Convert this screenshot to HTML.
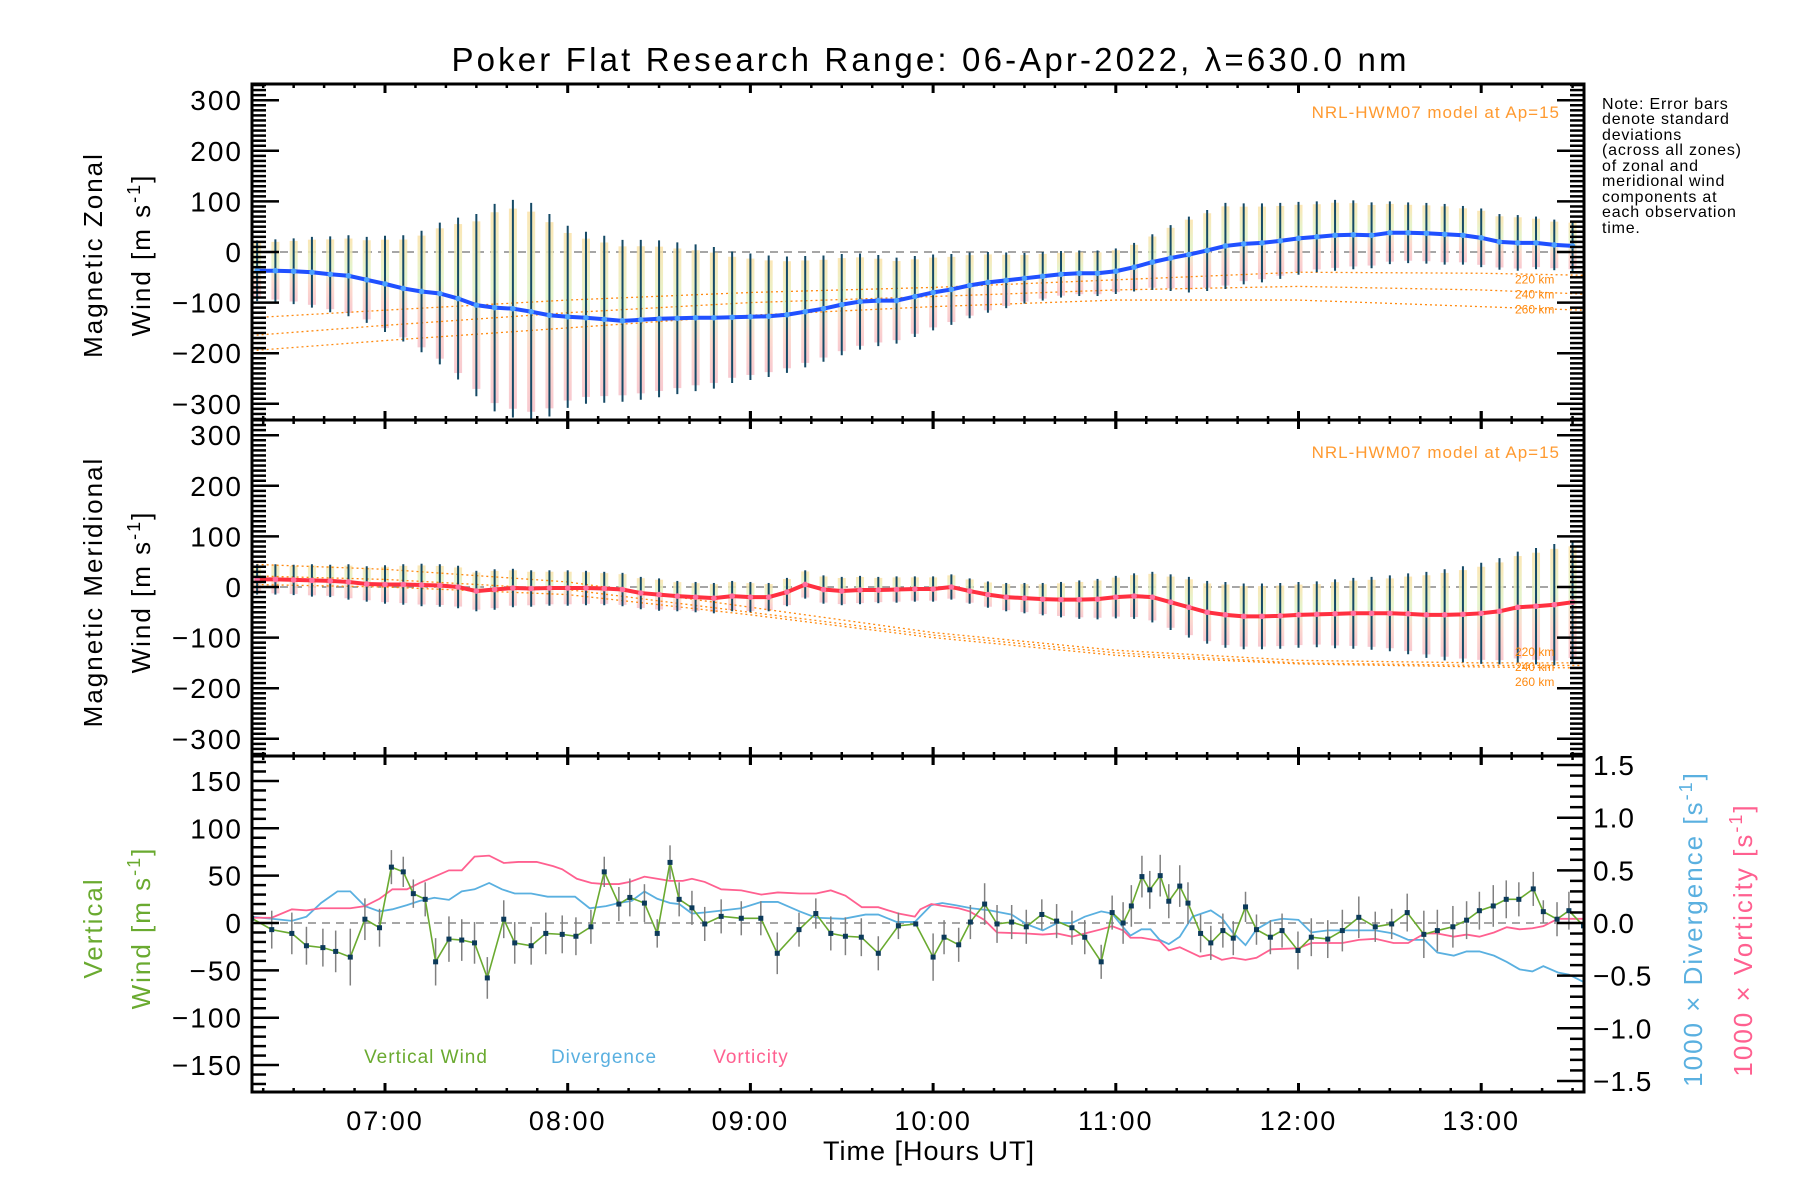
<!DOCTYPE html>
<html><head><meta charset="utf-8">
<style>
html,body{margin:0;padding:0;background:#fff;}
svg{display:block;font-family:"Liberation Sans",sans-serif;}
</style></head>
<body>
<svg id="chart" width="1800" height="1200" viewBox="0 0 1800 1200" xmlns="http://www.w3.org/2000/svg">
<defs>
<linearGradient id="pastel" x1="0" y1="0" x2="0" y2="1">
<stop offset="0" stop-color="#fbe2a8"/><stop offset="0.4" stop-color="#e0f2c4"/><stop offset="0.7" stop-color="#fcd2c4"/><stop offset="1" stop-color="#f7c0c8"/>
</linearGradient>
<clipPath id="c1"><rect x="252" y="84" width="1332" height="336"/></clipPath>
<clipPath id="c2"><rect x="252" y="420" width="1332" height="336"/></clipPath>
<clipPath id="c3"><rect x="252" y="756" width="1332" height="336"/></clipPath>
</defs>
<text x="929" y="71" font-size="33" text-anchor="middle" textLength="955" lengthAdjust="spacing">Poker Flat Research Range: 06-Apr-2022, λ=630.0 nm</text>
<g id="marks"></g>
<g id="axes"></g>
<g font-size="16" fill="#000" letter-spacing="0.8">
<text x="1602" y="109">Note: Error bars</text>
<text x="1602" y="124">denote standard</text>
<text x="1602" y="140">deviations</text>
<text x="1602" y="155">(across all zones)</text>
<text x="1602" y="171">of zonal and</text>
<text x="1602" y="186">meridional wind</text>
<text x="1602" y="202">components at</text>
<text x="1602" y="217">each observation</text>
<text x="1602" y="233">time.</text>
</g>
<g font-size="26" fill="#000" letter-spacing="2">
<text transform="translate(102,255) rotate(-90)" text-anchor="middle">Magnetic Zonal</text>
<text transform="translate(150,255) rotate(-90)" text-anchor="middle">Wind [m s<tspan dy="-10" font-size="18">-1</tspan><tspan dy="10">]</tspan></text>
<text transform="translate(102,592) rotate(-90)" text-anchor="middle">Magnetic Meridional</text>
<text transform="translate(150,592) rotate(-90)" text-anchor="middle">Wind [m s<tspan dy="-10" font-size="18">-1</tspan><tspan dy="10">]</tspan></text>
<text transform="translate(102,928) rotate(-90)" text-anchor="middle" fill="#6aaa30">Vertical</text>
<text transform="translate(150,928) rotate(-90)" text-anchor="middle" fill="#6aaa30">Wind [m s<tspan dy="-10" font-size="18">-1</tspan><tspan dy="10">]</tspan></text>
<text transform="translate(1702,929) rotate(-90)" text-anchor="middle" fill="#5ab0e0">1000 × Divergence [s<tspan dy="-10" font-size="18">-1</tspan><tspan dy="10">]</tspan></text>
<text transform="translate(1752,940) rotate(-90)" text-anchor="middle" fill="#ff6090">1000 × Vorticity [s<tspan dy="-10" font-size="18">-1</tspan><tspan dy="10">]</tspan></text>
<text x="929" y="1160" text-anchor="middle" font-size="27" letter-spacing="1">Time [Hours UT]</text>
</g>
<g font-size="19" letter-spacing="1">
<text x="426" y="1073" text-anchor="middle" fill="#6aaa30" dy="-10">Vertical Wind</text>
<text x="604" y="1073" text-anchor="middle" fill="#5ab0e0" dy="-10">Divergence</text>
<text x="751" y="1073" text-anchor="middle" fill="#ff6090" dy="-10">Vorticity</text>
<text x="1560" y="118" text-anchor="end" fill="#ff9a30" font-size="17">NRL-HWM07 model at Ap=15</text>
<text x="1560" y="458" text-anchor="end" fill="#ff9a30" font-size="17">NRL-HWM07 model at Ap=15</text>
</g>
</svg>
<script>
// ---- data ----
const zonalMean=[-37,-37,-38,-40,-44,-47,-55,-63,-72,-78,-82,-92,-105,-110,-112,-118,-125,-128,-130,-133,-136,-134,-132,-131,-130,-130,-129,-128,-127,-124,-118,-112,-104,-98,-96,-96,-88,-80,-74,-66,-60,-56,-52,-48,-44,-42,-42,-38,-30,-20,-12,-5,3,12,16,18,22,27,30,33,34,33,38,38,37,35,33,28,20,18,18,14,12];
const zonalStd=[60,62,65,70,75,80,85,95,105,120,140,160,180,205,215,215,200,180,170,165,160,158,155,150,145,140,130,125,120,115,110,105,100,95,90,85,80,75,70,65,60,55,50,48,46,45,45,45,48,55,65,75,80,85,80,78,75,72,70,70,68,65,62,60,60,60,58,58,55,55,52,50,50];
const meridMean=[15,15,14,13,12,10,6,5,5,4,3,0,-8,-5,-2,-3,-2,-2,-2,-3,-5,-12,-15,-18,-20,-22,-18,-20,-20,-10,5,-5,-8,-6,-6,-5,-4,-4,0,-8,-15,-20,-22,-24,-25,-25,-24,-20,-18,-20,-30,-40,-50,-55,-58,-58,-57,-55,-54,-53,-52,-52,-52,-53,-55,-55,-54,-52,-48,-40,-38,-35,-30];
const meridStd=[30,30,30,32,32,35,35,38,40,42,42,42,40,40,38,36,35,35,34,33,33,32,32,30,30,30,30,30,28,28,28,28,28,28,26,26,25,25,25,25,26,28,30,32,35,38,40,42,45,50,55,60,62,65,65,65,65,65,65,68,70,72,75,80,85,90,95,100,105,110,115,120,120];
const obsStart=6.3, obsStep=0.1;
const modelT=[6.27,7,8,9,10,11,12,13,13.56];
const zonal220=[-130,-115,-95,-80,-70,-55,-40,-42,-46];
const zonal240=[-165,-145,-120,-100,-88,-75,-68,-75,-83];
const zonal260=[-195,-175,-150,-125,-108,-95,-95,-108,-115];
const merid220=[45,35,10,-40,-90,-125,-145,-150,-150];
const merid240=[22,15,-5,-50,-95,-130,-150,-155,-155];
const merid260=[5,0,-15,-55,-100,-135,-152,-158,-160];
const vT=[6.27,6.38,6.49,6.57,6.66,6.73,6.81,6.89,6.97,7.035,7.10,7.155,7.22,7.277,7.35,7.42,7.49,7.56,7.65,7.71,7.80,7.88,7.97,8.045,8.127,8.20,8.28,8.34,8.42,8.49,8.56,8.61,8.68,8.75,8.84,8.95,9.057,9.147,9.266,9.358,9.44,9.52,9.607,9.70,9.81,9.905,10.0,10.06,10.14,10.204,10.282,10.35,10.43,10.51,10.595,10.676,10.76,10.83,10.92,10.98,11.04,11.085,11.143,11.186,11.243,11.29,11.35,11.395,11.464,11.52,11.586,11.643,11.71,11.77,11.846,11.91,11.997,12.07,12.16,12.24,12.33,12.42,12.51,12.595,12.686,12.76,12.845,12.92,12.99,13.066,13.137,13.206,13.285,13.34,13.415,13.48,13.56];
const vW=[5,-7,-11,-24,-26,-30,-36,4,-5,59,54,31,25,-41,-17,-18,-21,-58,4,-21,-24,-11,-12,-14,-4,54,20,27,21,-11,64,25,16,-1,7,5,5,-32,-7,10,-11,-14,-15,-32,-3,-1,-36,-15,-23,1,20,-1,1,-4,9,2,-5,-15,-41,11,0,18,49,35,50,23,39,21,-11,-21,-8,-16,17,-7,-15,-8,-29,-15,-17,-8,6,-4,-1,11,-12,-8,-4,3,13,18,25,25,36,12,4,13,-3];
const vErr=[0,20,22,20,20,22,30,22,20,18,16,15,18,25,24,22,22,22,20,22,20,22,20,20,18,16,18,20,20,15,18,18,18,18,18,18,18,22,18,16,18,20,20,18,14,0,25,18,18,18,22,20,18,18,16,18,18,18,18,18,22,22,22,20,22,18,22,22,20,18,18,18,16,16,18,18,20,20,20,22,22,16,16,20,25,22,22,20,20,22,20,18,18,12,18,20,0];
const dT=[6.26,6.38,6.49,6.57,6.65,6.74,6.81,6.89,6.97,7.04,7.12,7.19,7.27,7.35,7.42,7.49,7.57,7.64,7.71,7.80,7.89,8.04,8.12,8.21,8.28,8.35,8.42,8.49,8.56,8.61,8.68,8.75,8.85,8.95,9.06,9.15,9.27,9.36,9.51,9.63,9.70,9.80,9.90,9.99,10.05,10.12,10.21,10.31,10.43,10.51,10.60,10.68,10.76,10.83,10.92,10.98,11.04,11.08,11.14,11.19,11.24,11.29,11.35,11.42,11.52,11.58,11.64,11.71,11.77,11.85,11.91,12.00,12.07,12.16,12.42,12.52,12.60,12.69,12.76,12.85,12.92,12.99,13.07,13.14,13.21,13.28,13.34,13.42,13.48,13.56];
const dV=[0.06,0.04,0.02,0.06,0.19,0.30,0.30,0.16,0.11,0.13,0.17,0.21,0.24,0.22,0.30,0.32,0.38,0.32,0.28,0.28,0.25,0.25,0.14,0.16,0.19,0.21,0.30,0.23,0.19,0.18,0.09,0.10,0.12,0.14,0.20,0.20,0.11,0.05,0.04,0.08,0.08,0.01,0.01,0.17,0.19,0.17,0.14,0.12,0.08,-0.01,-0.07,0.00,0.00,0.06,0.11,0.09,-0.04,-0.12,-0.06,-0.06,-0.16,-0.20,-0.13,0.06,0.12,0.05,-0.09,-0.21,-0.06,0.02,0.04,0.03,-0.09,-0.07,-0.07,-0.10,-0.16,-0.16,-0.28,-0.31,-0.27,-0.27,-0.31,-0.37,-0.44,-0.46,-0.41,-0.47,-0.49,-0.56];
const oT=[6.26,6.38,6.49,6.57,6.65,6.81,6.89,6.97,7.04,7.12,7.19,7.27,7.35,7.42,7.49,7.57,7.65,7.73,7.83,7.92,7.97,8.05,8.13,8.20,8.28,8.34,8.42,8.49,8.56,8.63,8.68,8.75,8.84,8.95,9.06,9.15,9.27,9.36,9.44,9.52,9.61,9.70,9.81,9.90,9.93,9.99,10.06,10.14,10.20,10.28,10.35,10.51,10.60,10.68,10.76,10.83,10.92,10.98,11.04,11.08,11.14,11.24,11.29,11.35,11.46,11.52,11.58,11.64,11.71,11.77,11.85,12.00,12.07,12.24,12.33,12.42,12.52,12.60,12.69,12.76,12.85,12.92,12.99,13.07,13.14,13.21,13.28,13.34,13.42,13.56];
const oV=[0.05,0.05,0.13,0.12,0.14,0.14,0.16,0.23,0.32,0.32,0.38,0.44,0.50,0.50,0.63,0.64,0.57,0.58,0.58,0.54,0.51,0.42,0.38,0.37,0.37,0.39,0.44,0.42,0.40,0.40,0.42,0.39,0.32,0.31,0.27,0.29,0.28,0.28,0.31,0.26,0.15,0.15,0.09,0.06,0.13,0.18,0.16,0.14,0.11,0.03,-0.09,-0.10,-0.11,-0.10,-0.13,-0.10,-0.06,-0.03,-0.07,-0.14,-0.14,-0.17,-0.26,-0.23,-0.32,-0.30,-0.35,-0.33,-0.35,-0.33,-0.25,-0.24,-0.19,-0.19,-0.16,-0.15,-0.19,-0.19,-0.10,-0.10,-0.13,-0.11,-0.13,-0.09,-0.04,-0.06,-0.05,-0.03,0.04,0.04];
const hourLabels=["07:00","08:00","09:00","10:00","11:00","12:00","13:00"];
const hourTicks=[7,8,9,10,11,12,13];
const windTicks=[300,200,100,0,-100,-200,-300];
const vertTicks=[150,100,50,0,-50,-100,-150];
const rightTicks=[1.5,1.0,0.5,0.0,-0.5,-1.0,-1.5];

// ---- scales ----
const L=252,R=1584;
const X=t=>L+(t-6.272)*182.7;
const Y1=v=>252-v*0.506;
const Y2=v=>587-v*0.506;
const Y3=v=>923-v*0.947;
const YR=r=>923-r*105.3;
const NS="http://www.w3.org/2000/svg";
const marks=document.getElementById('marks');
const axes=document.getElementById('axes');
function mk(tag,attrs,parent){const e=document.createElementNS(NS,tag);for(const k in attrs)e.setAttribute(k,attrs[k]);(parent||marks).appendChild(e);return e;}
function fmtMinus(s){return String(s).replace('-','\u2212');}

[Y1,Y2,Y3].forEach(Y=>{
 const z=mk('line',{x1:L,x2:R,y1:Y(0),y2:Y(0),stroke:'#888','stroke-width':1.5,'stroke-dasharray':'8,6'});
 
 
});

function windPanel(mean,std,Y,clip,lineColor,dotColor,models,pname,labOff){
 const g=mk('g',{'clip-path':'url(#'+clip+')'});
 
 
 const n=Math.min(mean.length,std.length);
 for(let i=0;i<n;i++){
  const x=X(obsStart+i*obsStep);
  const r=mk('rect',{x:x-4,y:Y(mean[i]+std[i]*0.92),width:8,height:Y(mean[i]-std[i]*0.92)-Y(mean[i]+std[i]*0.92),fill:'url(#pastel)',opacity:0.85},g);
  
  
 }
 models.forEach((m,k)=>{
  const p=mk('polyline',{points:modelT.map((t,i)=>X(t)+','+Y(m[i])).join(' '),fill:'none',stroke:'#ff8a10','stroke-width':1.3,'stroke-dasharray':'2,3'},g);
  
  
 });
 for(let i=0;i<n;i++){
  const x=X(obsStart+i*obsStep);
  const b=mk('line',{x1:x,x2:x,y1:Y(mean[i]+std[i]),y2:Y(mean[i]-std[i]),stroke:'#154a66','stroke-width':2},g);
  
  
 }
 const pl=mk('polyline',{points:mean.map((v,i)=>X(obsStart+i*obsStep)+','+Y(v)).join(' '),fill:'none',stroke:lineColor,'stroke-width':4},g);
 
 
 for(let i=0;i<n;i++){
  const c=mk('circle',{cx:X(obsStart+i*obsStep),cy:Y(mean[i]),r:2.8,fill:dotColor},g);
  
  
 }
 ['220 km','240 km','260 km'].forEach((lab,k)=>{
  const t=mk('text',{x:1515,y:Y(models[0][models[0].length-1])+labOff+k*15,'font-size':12,fill:'#ff8a10'});
  t.textContent=lab;
  
  
 });
}
windPanel(zonalMean,zonalStd,Y1,'c1','#2050ff','#4aa0ff',[zonal220,zonal240,zonal260],'zonal',8);
windPanel(meridMean,meridStd,Y2,'c2','#ff3040','#ff70a0',[merid220,merid240,merid260],'meridional',-7);

const g3=mk('g',{'clip-path':'url(#c3)'});


const dl=mk('polyline',{points:dT.map((t,i)=>X(t)+','+YR(dV[i])).join(' '),fill:'none',stroke:'#5ab0e0','stroke-width':1.8},g3);


const ol=mk('polyline',{points:oT.map((t,i)=>X(t)+','+YR(oV[i])).join(' '),fill:'none',stroke:'#ff6090','stroke-width':1.8},g3);


const nv=Math.min(vT.length,vW.length);
for(let i=0;i<nv;i++){
 const e=(vErr[i]!==undefined?vErr[i]:18);
 if(e>0){
  const b=mk('line',{x1:X(vT[i]),x2:X(vT[i]),y1:Y3(vW[i]+e),y2:Y3(vW[i]-e),stroke:'#808080','stroke-width':1.5},g3);
  
  
 }
}
const vl=mk('polyline',{points:vT.slice(0,nv).map((t,i)=>X(t)+','+Y3(vW[i])).join(' '),fill:'none',stroke:'#6aaa30','stroke-width':1.6},g3);


for(let i=0;i<nv;i++){
 const p=mk('rect',{x:X(vT[i])-2.5,y:Y3(vW[i])-2.5,width:5,height:5,fill:'#0c3a5a'},g3);
 
 
}

// ---- axes ----
function ax(tag,attrs){return mk(tag,attrs,axes);}
const frames=[[84,420,'zonal'],[420,756,'meridional'],[756,1092,'vertical']];
frames.forEach(([t,b,n])=>{
 const r=ax('rect',{x:L,y:t,width:R-L,height:b-t,fill:'none',stroke:'#000','stroke-width':3});
 
 
});
for(let m=0;;m++){
 const t=6+(m*10)/60; if(t>13.6)break; if(t<6.272)continue;
 const x=X(t); const major=Math.abs(t-Math.round(t))<1e-6;
 const len=major?9:4;
 frames.forEach(([top,bot])=>{
  const a=ax('line',{x1:x,x2:x,y1:top,y2:top+len,stroke:'#000','stroke-width':major?3:2.5});
  
  
  const c=ax('line',{x1:x,x2:x,y1:bot-len,y2:bot,stroke:'#000','stroke-width':major?3:2.5});
  
  
 });
 if(major){
  [420,756].forEach(yy=>{const d=ax('line',{x1:x,x2:x,y1:yy-9,y2:yy+9,stroke:'#000','stroke-width':3});
   
   });
 }
}
hourTicks.forEach((h,i)=>{
 const t=ax('text',{x:X(h),y:1130,'text-anchor':'middle','font-size':27,'letter-spacing':2});
 t.textContent=hourLabels[i];
 
 
});
function yAxis(Y,lo,hi,minor,major,labels,top,bot,bothSides,name){
 for(let v=lo;v<=hi+1e-9;v+=minor){
  const y=Y(v); if(y<top+1||y>bot-1)continue;
  const isMaj=Math.abs(v/major-Math.round(v/major))<1e-6;
  const len=isMaj?27:14;
  const a=ax('line',{x1:L,x2:L+len,y1:y,y2:y,stroke:'#000','stroke-width':2.5});
  
  
  if(bothSides){const b=ax('line',{x1:R-len,x2:R,y1:y,y2:y,stroke:'#000','stroke-width':2.5});
   
   }
 }
 labels.forEach(v=>{
  const t=ax('text',{x:243,y:Y(v)+10,'text-anchor':'end','font-size':28,'letter-spacing':2});
  t.textContent=fmtMinus(v);
  
  
 });
}
yAxis(Y1,-330,330,10,100,windTicks,84,420,true,'zonal');
yAxis(Y2,-330,330,10,100,windTicks,420,756,true,'meridional');
yAxis(Y3,-170,170,10,50,vertTicks,756,1092,false,'vertical');
for(let k=-16;k<=16;k++){
 const r=k/10, y=YR(r); if(y<757||y>1091)continue;
 const maj=k%5===0; const len=maj?27:14;
 const a=ax('line',{x1:R-len,x2:R,y1:y,y2:y,stroke:'#000','stroke-width':2.5});
 
 
}
rightTicks.forEach(r=>{
 const t=ax('text',{x:1593,y:YR(r)+10,'font-size':28,'letter-spacing':1});
 t.textContent=fmtMinus(r.toFixed(1));
 
 
});
</script>
</body></html>
